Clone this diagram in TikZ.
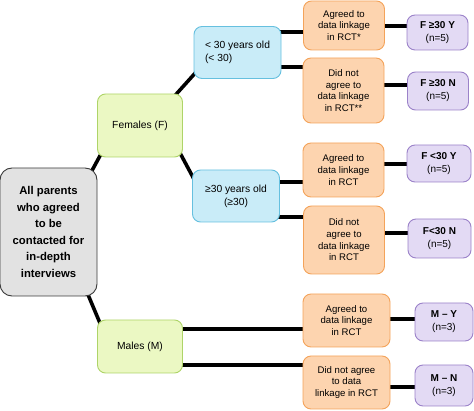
\documentclass[tikz,border=0pt]{standalone}
\usepackage{fontspec}
\setmainfont{Liberation Sans}
\usepackage{tikz}
\usetikzlibrary{backgrounds}

\definecolor{rootfill}{HTML}{E2E2E2}
\definecolor{rootline}{HTML}{3A3A3A}
\definecolor{sexfill}{HTML}{EBF8C3}
\definecolor{sexline}{HTML}{AED468}
\definecolor{agefill}{HTML}{C9ECF8}
\definecolor{ageline}{HTML}{66C0DF}
\definecolor{linkfill}{HTML}{FDD4AF}
\definecolor{linkline}{HTML}{F4A35A}
\definecolor{grpfill}{HTML}{E3DAF4}
\definecolor{grpline}{HTML}{9B82C9}

\begin{document}
\begin{tikzpicture}[
	x=1pt,y=-1pt,
	box/.style={draw,line width=0.9pt,rounded corners=8pt,align=center,inner sep=1pt},
	root/.style={box,draw=rootline,fill=rootfill,rounded corners=12pt,
		minimum width=97pt,minimum height=128pt,
		font=\fontsize{11.3}{16.6}\selectfont\bfseries},
	sex/.style={box,draw=sexline,fill=sexfill,minimum width=85pt,
		font=\fontsize{10.3}{13}\selectfont},
	age/.style={box,draw=ageline,fill=agefill,minimum width=87pt,minimum height=52pt,
		font=\fontsize{10.3}{13}\selectfont},
	link/.style={box,draw=linkline,fill=linkfill,minimum width=81pt,
		font=\fontsize{9.6}{11.7}\selectfont},
	grp/.style={box,draw=grpline,fill=grpfill,minimum width=61pt,
		font=\fontsize{10}{13}\selectfont},
	con/.style={line width=3.6pt,shorten <=-7pt,shorten >=-7pt}
]
	\useasboundingbox (0,0) rectangle (474,411);

	% tree of boxes
	\path
		(48.5,232) node[root](root){All parents\\who agreed\\to be\\contacted for\\in-depth\\interviews}
		(140,125.5) node[sex,minimum height=63pt](fem){Females (F)}
		(140,346.5) node[sex,minimum height=53pt](male){Males (M)}
		(237.5,52.5) node[age,align=left](young){< 30 years old\\(< 30)}
		(236,196) node[age](old){≥30 years old\\(≥30)}
	;
	\path
		(344,25.5) node[link,minimum height=49pt](yesYoung){Agreed to\\data linkage\\in RCT*}
		(343.5,90.5) node[link,minimum height=65pt](noYoung){Did not\\agree to\\data linkage\\in RCT**}
		(343.5,170) node[link,minimum height=54pt](yesOld){Agreed to\\data linkage\\in RCT}
		(344,240) node[link,minimum height=68pt](noOld){Did not\\agree to\\data linkage\\in RCT}
		(346.5,320.5) node[link,minimum width=87pt,minimum height=53pt](yesMale){Agreed to\\data linkage\\in RCT}
		(346.5,382.5) node[link,minimum width=87pt,minimum height=53pt](noMale){Did not agree\\to data\\linkage in RCT}
	;
	\path
		(437.5,32.5) node[grp,minimum height=35pt](fyY){\textbf{F ≥30 Y}\\(n=5)}
		(438,91) node[grp,minimum height=38pt](fyN){\textbf{F ≥30 N}\\(n=5)}
		(439,163.5) node[grp,minimum width=64pt,minimum height=37pt](foY){\textbf{F <30 Y}\\(n=5)}
		(439.5,238.5) node[grp,minimum width=63pt,minimum height=39pt](foN){\textbf{F<30 N}\\(n=5)}
		(444,322) node[grp,minimum width=58pt,minimum height=38pt](mY){\textbf{M – Y}\\(n=3)}
		(444,385.5) node[grp,minimum width=58pt,minimum height=41pt](mN){\textbf{M – N}\\(n=3)}
	;

	% connectors behind the boxes
	\begin{scope}[on background layer]
		\draw[con] (root.55) -- (fem.218);
		\draw[con] (root.-58) -- (male.147);
		\draw[con] (fem.41) -- (young.207);
		\draw[con] (fem.-37) -- (old.155);
		\draw[con] ([yshift=20.5pt]young.east) -- ([yshift=20.5pt]young.east -| yesYoung.west);
		\draw[con] ([yshift=-14.5pt]young.east) -- ([yshift=-14.5pt]young.east -| noYoung.west);
		\draw[con] ([yshift=14pt]old.east) -- ([yshift=14pt]old.east -| yesOld.west);
		\draw[con] ([yshift=-21pt]old.east) -- ([yshift=-21pt]old.east -| noOld.west);
		\draw[con] ([yshift=17.5pt]male.east) -- ([yshift=17.5pt]male.east -| yesMale.west);
		\draw[con] ([yshift=-18.5pt]male.east) -- ([yshift=-18.5pt]male.east -| noMale.west);
		\draw[con] ([yshift=-0.5pt]yesYoung.east) -- ([yshift=-0.5pt]yesYoung.east -| fyY.west);
		\draw[con] ([yshift=5.5pt]noYoung.east) -- ([yshift=5.5pt]noYoung.east -| fyN.west);
		\draw[con] ([yshift=6pt]yesOld.east) -- ([yshift=6pt]yesOld.east -| foY.west);
		\draw[con] ([yshift=7pt]noOld.east) -- ([yshift=7pt]noOld.east -| foN.west);
		\draw[con] ([yshift=1.5pt]yesMale.east) -- ([yshift=1.5pt]yesMale.east -| mY.west);
		\draw[con] ([yshift=-4.5pt]noMale.east) -- ([yshift=-4.5pt]noMale.east -| mN.west);
	\end{scope}
\end{tikzpicture}
\end{document}
